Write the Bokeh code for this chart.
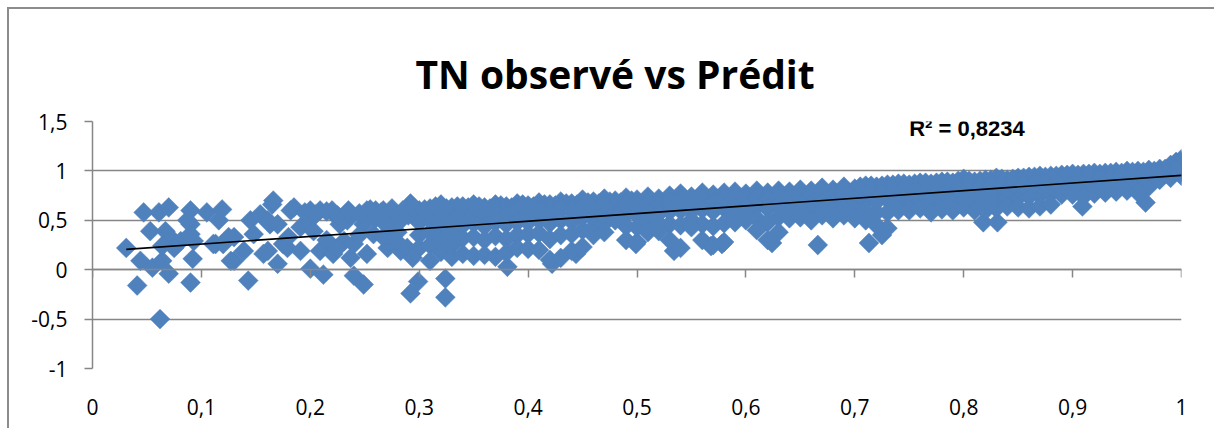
import numpy as np
from bokeh.plotting import figure
from bokeh.models import Range1d, LinearAxis, FixedTicker, Label, Title
from bokeh.embed import file_html
from bokeh.resources import INLINE

# ---------------- data ----------------
title_text = "TN observé vs Prédit"
r2_text = "R² = 0,8234"

x_ticks = [0, 0.1, 0.2, 0.3, 0.4, 0.5, 0.6, 0.7, 0.8, 0.9, 1]
x_tick_labels = ["0", "0,1", "0,2", "0,3", "0,4", "0,5", "0,6", "0,7", "0,8", "0,9", "1"]
y_ticks = [-1, -0.5, 0, 0.5, 1, 1.5]
y_tick_labels = ["-1", "-0,5", "0", "0,5", "1", "1,5"]

# sparse left part of the cloud (TN observé, TN prédit)
left_x = [0.031, 0.047, 0.061, 0.070, 0.053, 0.044, 0.055, 0.064, 0.070, 0.041,
          0.062, 0.067, 0.073, 0.081, 0.064, 0.090, 0.090, 0.090, 0.092, 0.090,
          0.105, 0.119, 0.116, 0.113, 0.125, 0.130, 0.145, 0.143, 0.139, 0.154,
          0.165, 0.163, 0.161, 0.170, 0.182, 0.179, 0.185, 0.200, 0.209, 0.200,
          0.212, 0.240, 0.249, 0.237, 0.221, 0.237, 0.252, 0.267, 0.292, 0.271,
          0.283, 0.191, 0.175, 0.191, 0.161, 0.075, 0.093, 0.087, 0.111, 0.120,
          0.130, 0.127, 0.148, 0.157, 0.170, 0.166, 0.180, 0.199, 0.203, 0.221,
          0.231, 0.240, 0.252, 0.258, 0.267, 0.279, 0.289, 0.260, 0.276, 0.283,
          0.249, 0.234, 0.209, 0.220, 0.227, 0.300, 0.300, 0.300, 0.300, 0.310,
          0.310, 0.310, 0.310, 0.310, 0.320, 0.320, 0.320, 0.320, 0.320, 0.330,
          0.330, 0.330, 0.330, 0.330, 0.294, 0.260, 0.270, 0.280, 0.290, 0.245,
          0.215, 0.225]
left_y = [0.22, 0.58, 0.58, 0.63, 0.39, 0.09, 0.02, 0.09, -0.04, -0.16,
          -0.50, 0.39, 0.31, 0.29, 0.24, 0.60, 0.46, 0.36, 0.11, -0.13,
          0.58, 0.61, 0.50, 0.26, 0.33, 0.09, 0.50, -0.11, 0.19, 0.56,
          0.66, 0.46, 0.19, 0.06, 0.60, 0.22, 0.63, 0.60, 0.19, 0.01,
          -0.05, -0.06, -0.15, 0.12, 0.57, 0.57, 0.60, 0.60, 0.67, 0.22,
          0.19, 0.19, 0.26, 0.43, 0.50, 0.22, 0.29, 0.50, 0.26, 0.26,
          0.33, 0.09, 0.36, 0.16, 0.46, 0.70, 0.33, 0.50, 0.39, 0.16,
          0.29, 0.26, 0.16, 0.36, 0.33, 0.29, 0.22, 0.52, 0.52, 0.50,
          0.46, 0.50, 0.60, 0.60, 0.46, 0.60, 0.48, 0.35, 0.22, 0.62,
          0.50, 0.38, 0.25, 0.09, 0.66, 0.54, 0.42, 0.30, 0.18, 0.63,
          0.50, 0.37, 0.25, 0.13, 0.12, 0.60, 0.45, 0.38, 0.55, 0.35,
          0.30, 0.22]

# upper layer of the cloud between 0.2 and 0.5
upper_x = [0.195, 0.205, 0.215, 0.225, 0.235, 0.245, 0.255, 0.265, 0.275, 0.285,
           0.295, 0.305, 0.315, 0.325, 0.335, 0.345, 0.355, 0.365, 0.375, 0.385,
           0.395, 0.405, 0.415, 0.425, 0.435, 0.445, 0.455, 0.465, 0.475, 0.485,
           0.495]
upper_y = [0.58, 0.56, 0.59, 0.55, 0.60, 0.57, 0.61, 0.58, 0.62, 0.60,
           0.63, 0.61, 0.64, 0.62, 0.64, 0.63, 0.64, 0.62, 0.65, 0.63,
           0.66, 0.64, 0.66, 0.65, 0.67, 0.66, 0.68, 0.67, 0.69, 0.68,
           0.70]

# dense band: for each TN observé value, predicted values from top to bottom of the band
band_x = [0.34, 0.35, 0.36, 0.37, 0.38, 0.39, 0.40, 0.41, 0.42, 0.43,
          0.44, 0.45, 0.46, 0.47, 0.48, 0.49, 0.50, 0.51, 0.52, 0.53,
          0.54, 0.55, 0.56, 0.57, 0.58, 0.59, 0.60, 0.61, 0.62, 0.63,
          0.64, 0.65, 0.66, 0.67, 0.68, 0.69, 0.70, 0.71, 0.72, 0.73,
          0.74, 0.75, 0.76, 0.77, 0.78, 0.79, 0.80, 0.81, 0.82, 0.83,
          0.84, 0.85, 0.86, 0.87, 0.88, 0.89, 0.90, 0.91, 0.92, 0.93,
          0.94, 0.95, 0.96, 0.97, 0.98, 0.99, 1.00]
band_top = [0.64, 0.66, 0.63, 0.66, 0.64, 0.67, 0.65, 0.68, 0.66, 0.69,
            0.67, 0.71, 0.69, 0.72, 0.70, 0.73, 0.71, 0.74, 0.72, 0.75,
            0.77, 0.74, 0.78, 0.76, 0.78, 0.79, 0.77, 0.80, 0.78, 0.80,
            0.79, 0.81, 0.80, 0.83, 0.81, 0.84, 0.82, 0.85, 0.84, 0.86,
            0.87, 0.86, 0.88, 0.87, 0.89, 0.88, 0.92, 0.89, 0.91, 0.93,
            0.91, 0.93, 0.94, 0.95, 0.95, 0.96, 0.97, 0.97, 0.98, 0.98,
            0.99, 1.00, 1.00, 1.01, 1.02, 1.06, 1.12]
band_top2 = [0.60, 0.61, 0.60, 0.62, 0.60, 0.62, 0.61, 0.63, 0.62, 0.64,
             0.63, 0.66, 0.65, 0.67, 0.66, 0.68, 0.67, 0.70, 0.68, 0.71,
             0.72, 0.70, 0.73, 0.72, 0.74, 0.75, 0.73, 0.76, 0.74, 0.76,
             0.75, 0.77, 0.76, 0.79, 0.78, 0.80, 0.79, 0.81, 0.80, 0.82,
             0.83, 0.83, 0.85, 0.84, 0.86, 0.85, 0.88, 0.86, 0.88, 0.90,
             0.88, 0.90, 0.91, 0.92, 0.92, 0.93, 0.94, 0.94, 0.95, 0.95,
             0.96, 0.97, 0.97, 0.98, 1.00, 1.04, 1.09]
band_upper = [0.55, 0.57, 0.55, 0.58, 0.56, 0.59, 0.57, 0.60, 0.58, 0.61,
              0.59, 0.63, 0.61, 0.64, 0.63, 0.65, 0.64, 0.67, 0.65, 0.68,
              0.69, 0.67, 0.70, 0.68, 0.71, 0.72, 0.70, 0.73, 0.71, 0.73,
              0.72, 0.74, 0.73, 0.76, 0.75, 0.77, 0.76, 0.78, 0.77, 0.79,
              0.80, 0.80, 0.82, 0.81, 0.83, 0.83, 0.85, 0.84, 0.85, 0.87,
              0.86, 0.88, 0.88, 0.89, 0.90, 0.91, 0.92, 0.92, 0.93, 0.94,
              0.95, 0.95, 0.96, 0.97, 0.99, 1.02, 1.07]
band_mid = [0.45, 0.47, 0.44, 0.48, 0.46, 0.48, 0.48, 0.50, 0.47, 0.50,
            0.49, 0.53, 0.52, 0.56, 0.57, 0.56, 0.55, 0.58, 0.57, 0.59,
            0.60, 0.59, 0.61, 0.59, 0.62, 0.64, 0.63, 0.64, 0.62, 0.65,
            0.65, 0.67, 0.66, 0.68, 0.67, 0.69, 0.69, 0.70, 0.69, 0.71,
            0.73, 0.74, 0.75, 0.75, 0.76, 0.77, 0.78, 0.77, 0.78, 0.80,
            0.80, 0.81, 0.82, 0.83, 0.84, 0.86, 0.87, 0.87, 0.88, 0.89,
            0.90, 0.90, 0.91, 0.93, 0.95, 0.98, 1.03]
band_lower = [0.32, 0.33, 0.30, 0.34, 0.31, 0.35, 0.36, 0.37, 0.31, 0.35,
              0.36, 0.40, 0.43, 0.47, 0.53, 0.44, 0.43, 0.48, 0.47, 0.46,
              0.45, 0.50, 0.46, 0.44, 0.47, 0.55, 0.56, 0.52, 0.48, 0.53,
              0.58, 0.59, 0.57, 0.60, 0.59, 0.61, 0.60, 0.60, 0.58, 0.58,
              0.66, 0.67, 0.68, 0.67, 0.69, 0.69, 0.70, 0.69, 0.70, 0.71,
              0.72, 0.73, 0.74, 0.75, 0.77, 0.80, 0.81, 0.81, 0.82, 0.83,
              0.84, 0.85, 0.85, 0.88, 0.91, 0.95, 0.99]
band_bottom = [0.16, 0.14, 0.15, 0.13, 0.17, 0.22, 0.21, 0.20, 0.10, 0.12,
               0.19, 0.23, 0.35, 0.38, 0.50, 0.30, 0.28, 0.38, 0.39, 0.30,
               0.22, 0.43, 0.30, 0.25, 0.28, 0.48, 0.50, 0.40, 0.30, 0.38,
               0.52, 0.53, 0.50, 0.55, 0.52, 0.55, 0.52, 0.50, 0.45, 0.42,
               0.60, 0.60, 0.62, 0.58, 0.61, 0.60, 0.63, 0.60, 0.60, 0.62,
               0.64, 0.63, 0.62, 0.64, 0.66, 0.76, 0.76, 0.74, 0.77, 0.78,
               0.79, 0.80, 0.78, 0.84, 0.92, 0.93, 0.95]

# extra points of the very dense right-hand part
right_x = [0.705, 0.715, 0.725, 0.735, 0.745, 0.755, 0.765, 0.775, 0.785, 0.795,
           0.805, 0.815, 0.825, 0.835, 0.845, 0.855, 0.865, 0.875, 0.885, 0.895,
           0.905, 0.915, 0.925, 0.935, 0.945, 0.955, 0.965, 0.975, 0.985, 0.995]
right_high = [0.84, 0.85, 0.85, 0.86, 0.87, 0.87, 0.88, 0.88, 0.89, 0.90,
              0.90, 0.90, 0.91, 0.92, 0.92, 0.93, 0.94, 0.94, 0.95, 0.96,
              0.96, 0.97, 0.97, 0.98, 0.98, 0.99, 0.99, 1.00, 1.02, 1.05]
right_mid = [0.80, 0.81, 0.81, 0.82, 0.83, 0.83, 0.84, 0.85, 0.85, 0.86,
             0.86, 0.87, 0.87, 0.88, 0.89, 0.89, 0.90, 0.91, 0.91, 0.92,
             0.93, 0.93, 0.94, 0.95, 0.95, 0.96, 0.97, 0.97, 0.99, 1.02]
right_low = [0.76, 0.77, 0.77, 0.78, 0.79, 0.79, 0.80, 0.81, 0.81, 0.82,
             0.83, 0.83, 0.84, 0.85, 0.85, 0.86, 0.87, 0.87, 0.88, 0.89,
             0.90, 0.90, 0.91, 0.92, 0.93, 0.93, 0.94, 0.95, 0.97, 1.00]
end_x = [0.995, 1.0, 1.0, 1.0, 0.998, 1.0, 0.997, 1.0]
end_y = [1.09, 1.10, 1.05, 1.00, 0.98, 0.96, 1.03, 1.08]

# isolated low points below the band
out_x = [0.381, 0.422, 0.444, 0.499, 0.534, 0.568, 0.578, 0.624, 0.666, 0.713,
         0.725, 0.818, 0.831, 0.909, 0.967, 0.292, 0.299, 0.324, 0.324]
out_y = [0.03, 0.06, 0.16, 0.26, 0.19, 0.24, 0.26, 0.27, 0.25, 0.27,
         0.35, 0.48, 0.48, 0.64, 0.68, -0.24, -0.12, -0.28, -0.09]

# ---------------- assemble ----------------
obs = list(left_x) + list(upper_x) + list(out_x) + list(end_x)
pred = list(left_y) + list(upper_y) + list(out_y) + list(end_y)
for col in (band_top, band_top2, band_upper, band_mid, band_lower, band_bottom):
    obs += band_x
    pred += col
for col in (right_high, right_mid, right_low):
    obs += right_x
    pred += col
obs = np.array(obs)
pred = np.array(pred)

slope, intercept = np.polyfit(obs, pred, 1)
trend_x = np.array([obs.min(), obs.max()])
trend_y = intercept + slope * trend_x

FONT = "Open Sans"
GRID = "#868686"
BLUE = "#4F81BD"

p = figure(width=1207, height=421, output_backend="svg", toolbar_location=None,
           title=None,
           x_range=Range1d(0, 1), y_range=Range1d(-1, 1.5),
           x_axis_location=None, y_axis_location="left",
           min_border_left=83, min_border_right=35, min_border_top=112,
           min_border_bottom=62)
p.outline_line_color = None
p.background_fill_color = "white"
p.border_fill_color = "white"
p.styles = {"border-left": "2px solid #8c8c8c", "border-top": "2px solid #8c8c8c",
            "margin-left": "7px", "margin-top": "7px"}

# white spacer row next to the frame, then the title above it
spacer = Title(text=".", text_font_size="20px", text_color="white", standoff=6)
p.add_layout(spacer, "above")
main_title = Title(text=title_text, align="left", offset=323, standoff=0,
                   text_font=FONT, text_font_style="bold",
                   text_font_size="39px", text_color="black")
p.add_layout(main_title, "above")

# grid
p.xgrid.visible = False
p.ygrid.ticker = FixedTicker(ticks=y_ticks)
p.ygrid.grid_line_color = GRID
p.ygrid.grid_line_width = 1.5

# y axis
ya = p.yaxis[0]
ya.ticker = FixedTicker(ticks=y_ticks)
ya.major_label_overrides = dict(zip(y_ticks, y_tick_labels))
ya.axis_line_color = GRID
ya.axis_line_width = 1.5
ya.major_tick_line_color = GRID
ya.major_tick_line_width = 1.5
ya.major_tick_out = 8
ya.major_tick_in = 0
ya.minor_tick_line_color = None
ya.major_label_standoff = 17
ya.major_label_text_font = FONT
ya.major_label_text_font_size = "21px"
ya.major_label_text_color = "black"

# x axis line crossing at y = 0 (ticks only)
xa0 = LinearAxis(fixed_location=0, ticker=FixedTicker(ticks=x_ticks))
xa0.axis_line_color = GRID
xa0.axis_line_width = 1.5
xa0.major_tick_line_color = GRID
xa0.major_tick_line_width = 1.5
xa0.major_tick_out = 8
xa0.major_tick_in = 0
xa0.minor_tick_line_color = None
xa0.major_label_text_alpha = 0
xa0.major_label_text_font_size = "1px"
p.add_layout(xa0, "below")

# x labels at the bottom
xa1 = LinearAxis(ticker=FixedTicker(ticks=x_ticks))
xa1.major_label_overrides = dict(zip(x_ticks, x_tick_labels))
xa1.axis_line_color = None
xa1.major_tick_line_color = None
xa1.minor_tick_line_color = None
xa1.major_label_standoff = 24
xa1.major_label_text_font = FONT
xa1.major_label_text_font_size = "21px"
xa1.major_label_text_color = "black"
p.add_layout(xa1, "below")

# points
p.scatter(obs, pred, marker="square", angle=np.pi / 4, size=14,
          fill_color=BLUE, line_color=BLUE, line_width=0.5)

# trend line
p.line(trend_x, trend_y, line_color="black", line_width=1.6)

# R² label
p.add_layout(Label(x=0.803, y=1.43, text=r2_text, text_align="center",
                   text_baseline="middle", text_font="Liberation Sans",
                   text_font_style="bold", text_font_size="22px",
                   text_color="black"))

open("out.html", "w").write(file_html(p, INLINE))
